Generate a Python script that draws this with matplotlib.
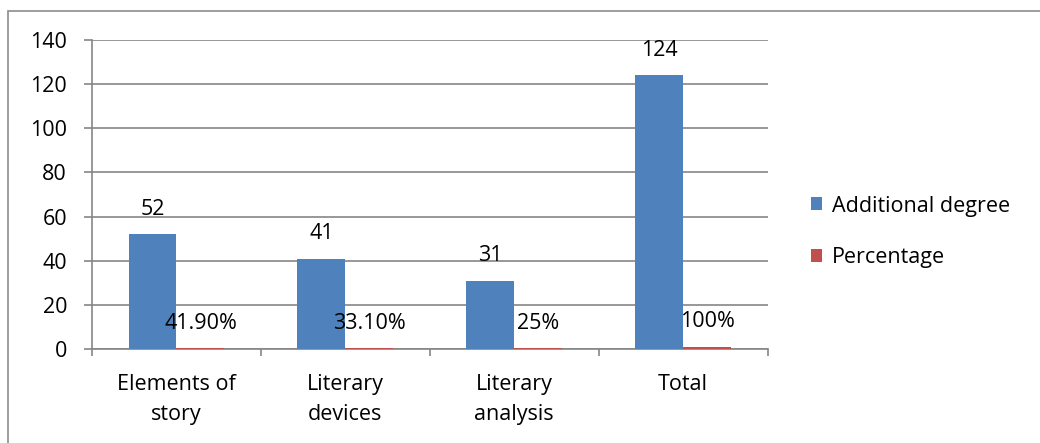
import matplotlib.pyplot as plt
import numpy as np
from matplotlib.patches import Rectangle

categories = ['Elements of\nstory', 'Literary\ndevices', 'Literary\nanalysis', 'Total']
degrees = [52, 41, 31, 124]
percentages = [0.419, 0.331, 0.25, 1.0]
degree_labels = ['52', '41', '31', '124']
pct_labels = ['41.90%', '33.10%', '25%', '100%']

plt.rcParams['font.family'] = ['Open Sans', 'DejaVu Sans']
plt.rcParams['font.size'] = 15.5

fig = plt.figure(figsize=(10.4, 4.43), dpi=100)
ax = fig.add_axes([0.0885, 0.2122, 0.6495, 0.6975])

# outer chart frame, cut off on the right and bottom
fig.patches.append(Rectangle((8 / 1040, -0.2), 1.2, 1.2 - 11 / 443,
                             transform=fig.transFigure, fill=False,
                             edgecolor='#8c8c8c', linewidth=1.2))

x = np.arange(len(categories))
w = 0.284
b1 = ax.bar(x - w / 2, degrees, width=w, color='#4f81bd', label='Additional degree', zorder=3)
b2 = ax.bar(x + w / 2, percentages, width=w, color='#c0504d', label='Percentage', zorder=3)

for rect, lab in zip(b1, degree_labels):
    ax.annotate(lab, (rect.get_x() + rect.get_width() / 2, rect.get_height()),
                xytext=(0, 18), textcoords='offset points', ha='center', va='center')
for rect, lab in zip(b2, pct_labels):
    ax.annotate(lab, (rect.get_x() + rect.get_width() / 2, rect.get_height()),
                xytext=(0, 18), textcoords='offset points', ha='center', va='center')

ax.set_xlim(-0.5, 3.5)
ax.set_ylim(0, 140)
ax.set_yticks(range(0, 141, 20))
ax.yaxis.grid(True, color='#868686', linewidth=1.2, zorder=0)
ax.set_xticks(x)
ax.set_xticklabels(categories, linespacing=1.55)
ax.set_xticks(np.arange(-0.5, 4, 1), minor=True)
ax.tick_params(axis='x', which='major', length=0, pad=18)
ax.tick_params(axis='x', which='minor', length=5, color='#868686', width=1.2)
ax.tick_params(axis='y', length=6, color='#868686', width=1.2, pad=12)

for s in ['top', 'right']:
    ax.spines[s].set_visible(False)
for s in ['left', 'bottom']:
    ax.spines[s].set_color('#868686')
    ax.spines[s].set_linewidth(1.2)

ax.legend(loc='center left', bbox_to_anchor=(1.035, 0.38), frameon=False,
          handlelength=0.55, handleheight=0.55, handletextpad=0.45, labelspacing=1.4)

plt.savefig('out.png')
